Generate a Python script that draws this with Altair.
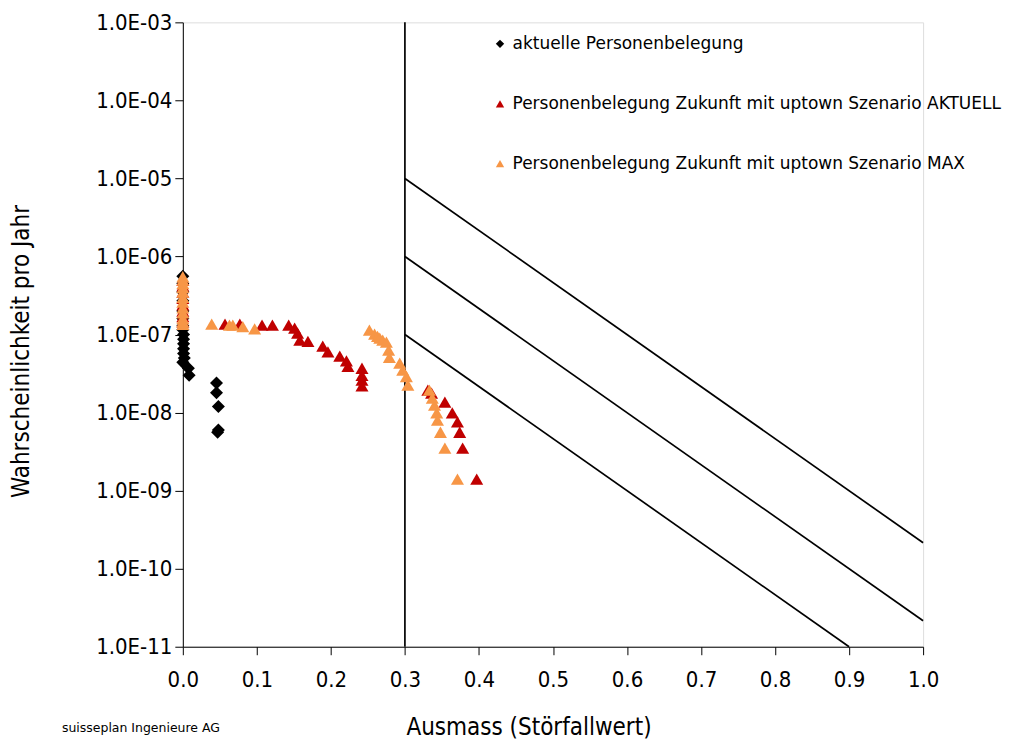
import altair as alt
import pandas as pd

FONT = "DejaVu Sans Condensed, DejaVu Sans"
FONT_WIDE = "DejaVu Sans"

series_names = [
    "aktuelle Personenbelegung",
    "Personenbelegung Zukunft mit uptown Szenario AKTUELL",
    "Personenbelegung Zukunft mit uptown Szenario MAX",
]
series_colors = ["#000000", "#C00000", "#F79646"]
series_shapes = ["diamond", "triangle-up", "triangle-up"]

akt_x = [0, 0, 0, 0, 0, 0, 0, 0, 0.001, 0.001, 0.001, 0.001, 0.001, 0.002, 0.0,
         0.0075, 0.0085, 0.0455, 0.0455, 0.048, 0.048, 0.047]
akt_y = [5.6e-7, 4.5e-7, 3.5e-7, 2.7e-7, 2.0e-7, 1.6e-7, 1.3e-7, 1.15e-7, 1.0e-7, 8.7e-8,
         7.6e-8, 6.6e-8, 5.7e-8, 5.0e-8, 4.4e-8, 3.7e-8, 3.0e-8, 2.4e-8, 1.8e-8, 1.2e-8,
         6.0e-9, 5.6e-9]

zak_x = [0, 0, 0, 0, 0, 0, 0, 0,
         0.057, 0.077, 0.107, 0.121, 0.143, 0.151, 0.155, 0.158, 0.169, 0.189, 0.196,
         0.212, 0.221, 0.223, 0.242, 0.242, 0.242, 0.242,
         0.331, 0.336, 0.354, 0.364, 0.371, 0.374, 0.378, 0.397]
zak_y = [5.0e-7, 4.2e-7, 3.5e-7, 2.9e-7, 2.4e-7, 2.0e-7, 1.7e-7, 1.45e-7,
         1.36e-7, 1.36e-7, 1.32e-7, 1.32e-7, 1.32e-7, 1.21e-7, 1.04e-7, 8.5e-8, 8.2e-8,
         7.1e-8, 6.0e-8, 5.3e-8, 4.6e-8, 3.9e-8, 3.7e-8, 3.0e-8, 2.6e-8, 2.2e-8,
         1.94e-8, 1.78e-8, 1.36e-8, 9.9e-9, 7.6e-9, 5.6e-9, 3.5e-9, 1.4e-9]

zmax_x = [0, 0, 0, 0, 0, 0, 0, 0, 0, 0, 0, 0,
          0.039, 0.063, 0.0675, 0.081, 0.097,
          0.252, 0.259, 0.263, 0.266, 0.270, 0.275, 0.278, 0.279, 0.293, 0.297, 0.302, 0.304,
          0.333, 0.337, 0.340, 0.343, 0.344, 0.348, 0.354, 0.371]
zmax_y = [5.5e-7, 5.0e-7, 4.5e-7, 4.0e-7, 3.5e-7, 3.0e-7, 2.6e-7, 2.2e-7, 1.9e-7, 1.6e-7,
          1.45e-7, 1.35e-7,
          1.36e-7, 1.32e-7, 1.32e-7, 1.26e-7, 1.18e-7,
          1.14e-7, 1.01e-7, 9.5e-8, 9.0e-8, 8.5e-8, 8.0e-8, 6.3e-8, 5.1e-8, 4.3e-8, 3.5e-8,
          2.9e-8, 2.25e-8,
          1.94e-8, 1.53e-8, 1.25e-8, 9.9e-9, 8.0e-9, 5.6e-9, 3.5e-9, 1.4e-9]

# reference lines (limit lines of the risk diagram)
line_id = ["v", "v", "a", "a", "b", "b", "c", "c"]
line_x = [0.3, 0.3, 0.3, 1.0, 0.3, 1.0, 0.3, 0.9]
line_y = [1e-11, 1e-3, 1e-5, 2.15e-10, 1e-6, 2.15e-11, 1e-7, 1e-11]

x_ticks = [0.0, 0.1, 0.2, 0.3, 0.4, 0.5, 0.6, 0.7, 0.8, 0.9, 1.0]
y_ticks = [1e-11, 1e-10, 1e-9, 1e-8, 1e-7, 1e-6, 1e-5, 1e-4, 1e-3]

rows = []
for name, xs, ys in zip(series_names, [akt_x, zak_x, zmax_x], [akt_y, zak_y, zmax_y]):
    for xv, yv in zip(xs, ys):
        rows.append({"series": name, "x": xv, "y": yv})
pts = pd.DataFrame(rows)
lines = pd.DataFrame({"id": line_id, "x": line_x, "y": line_y})

W, H = 741, 625

xscale = alt.Scale(domain=[0, 1], nice=False, zero=False)
yscale = alt.Scale(type="log", domain=[1e-11, 1e-3], nice=False)

xaxis = alt.Axis(
    values=x_ticks, format=".1f", title="Ausmass (Störfallwert)", grid=False,
    tickSize=8, labelPadding=15, labelFontSize=22, titleFontSize=24, titleFontWeight="normal",
    labelFont=FONT, titleFont=FONT, domainColor="#000", tickColor="#000",
    labelColor="#000", titleColor="#000", titleX=346, titleY=69, titleBaseline="top",
    labelFlush=False,
)
yaxis = alt.Axis(
    values=y_ticks, title="Wahrscheinlichkeit pro Jahr", grid=False,
    labelExpr="'1.0E-' + (round(-log(datum.value)/LN10) < 10 ? '0' : '') + round(-log(datum.value)/LN10)",
    tickSize=8, labelPadding=3, labelFontSize=22, titleFontSize=24, titleFontWeight="normal",
    labelFont=FONT, titleFont=FONT, domainColor="#000", tickColor="#000",
    labelColor="#000", titleColor="#000", titleX=-161, titleY=329, titleBaseline="middle",
    titleAngle=-90, labelFlush=False,
)

line_layer = alt.Chart(lines).mark_line(color="#000", strokeWidth=1.7).encode(
    x=alt.X("x:Q", scale=xscale, axis=xaxis),
    y=alt.Y("y:Q", scale=yscale, axis=yaxis),
    detail="id:N",
)

point_layer = alt.Chart(pts).mark_point(filled=True, opacity=1, size=170).encode(
    x=alt.X("x:Q", scale=xscale),
    y=alt.Y("y:Q", scale=yscale),
    color=alt.Color("series:N", scale=alt.Scale(domain=series_names, range=series_colors),
                    legend=alt.Legend(title=None, orient="none", legendX=309, legendY=13,
                                      labelFont=FONT_WIDE, labelFontSize=17, labelColor="#000",
                                      symbolSize=70, rowPadding=42, labelOffset=4,
                                      labelLimit=700, symbolStrokeWidth=0)),
    shape=alt.Shape("series:N", scale=alt.Scale(domain=series_names, range=series_shapes)),
)

footer = alt.Chart(pd.DataFrame({"t": ["suisseplan Ingenieure AG"]})).mark_text(
    align="left", baseline="middle", font=FONT_WIDE, fontSize=12.5, color="#000"
).encode(x=alt.value(-121), y=alt.value(706), text="t:N")

chart = alt.layer(line_layer, point_layer, footer).properties(
    width=W, height=H,
    autosize=alt.AutoSizeParams(type="none"),
    padding={"left": 175, "top": 14, "right": 104, "bottom": 97},
).configure_view(stroke=None).configure(background="#ffffff")

chart.save("out.html", embed_options={"renderer": "svg", "actions": False})
